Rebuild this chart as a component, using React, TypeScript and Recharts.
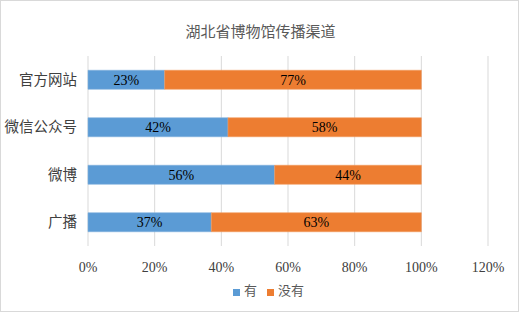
import { BarChart, Bar, XAxis, YAxis, CartesianGrid, Legend, LabelList } from 'recharts'

const channels = ['官方网站', '微信公众号', '微博', '广播']
const haveValues = [23, 42, 56, 37]
const notHaveValues = [77, 58, 44, 63]
const xTicks = [0, 20, 40, 60, 80, 100, 120]

const data = channels.map((name, i) => ({
  name,
  have: haveValues[i],
  notHave: notHaveValues[i],
}))

const FONT = "'Times New Roman', 'Liberation Serif', Tinos, 'DejaVu Serif', 'Noto Sans CJK SC', serif"

export default function App() {
  return (
    <div
      style={{
        position: 'absolute',
        left: 0,
        top: 0,
        width: 519,
        height: 312,
        boxSizing: 'border-box',
        border: '1px solid #d9d9d9',
        background: '#fff',
        fontFamily: FONT,
      }}
    >
      <div
        style={{
          position: 'absolute',
          top: 19,
          left: 0,
          width: 519,
          textAlign: 'center',
          fontSize: 15,
          color: '#595959',
        }}
      >
        湖北省博物馆传播渠道
      </div>
      <div style={{ position: 'absolute', left: -1, top: -1 }}>
        <BarChart
          width={519}
          height={312}
          data={data}
          layout="vertical"
          barCategoryGap="30%"
          margin={{ top: 56, right: 31, left: 0, bottom: 8 }}
          style={{ fontFamily: FONT }}
        >
          <CartesianGrid horizontal={false} stroke="#d9d9d9" />
          <XAxis
            type="number"
            domain={[0, 120]}
            ticks={xTicks}
            tickFormatter={(v) => `${v}%`}
            tick={{ fontSize: 14, fill: '#404040', style: { fontFamily: FONT } }}
            tickLine={false}
            axisLine={false}
            height={34}
            tickMargin={10}
          />
          <YAxis
            type="category"
            dataKey="name"
            width={88}
            tick={{ fontSize: 14.5, fill: '#404040', style: { fontFamily: FONT } }}
            tickLine={false}
            axisLine={false}
            tickMargin={5}
          />
          <Legend
            verticalAlign="bottom"
            height={24}
            iconType="square"
            iconSize={7}
            wrapperStyle={{ fontSize: 13, fontFamily: FONT, left: 14, width: 519 }}
            formatter={(value) => <span style={{ color: '#595959' }}>{value}</span>}
          />
          <Bar dataKey="have" name="有" stackId="a" fill="#5B9BD5" stroke="#7fb1de" strokeWidth={0.6} isAnimationActive={false}>
            <LabelList
              dataKey="have"
              position="center"
              formatter={(v: number) => `${v}%`}
              style={{ fontSize: 14, fill: '#000', fontFamily: FONT }}
            />
          </Bar>
          <Bar dataKey="notHave" name="没有" stackId="a" fill="#ED7D31" stroke="#f29a5e" strokeWidth={0.6} isAnimationActive={false}>
            <LabelList
              dataKey="notHave"
              position="center"
              formatter={(v: number) => `${v}%`}
              style={{ fontSize: 14, fill: '#000', fontFamily: FONT }}
            />
          </Bar>
        </BarChart>
      </div>
    </div>
  )
}
